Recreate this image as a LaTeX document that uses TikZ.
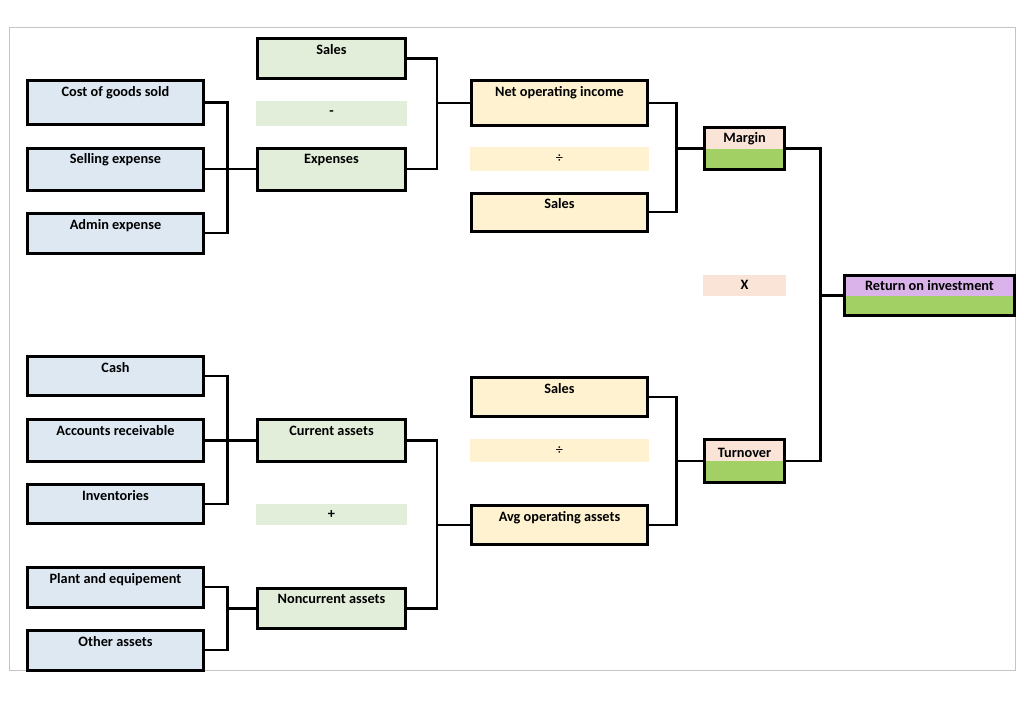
\documentclass[tikz,border=0pt]{standalone}
\usepackage{fontspec}
\setmainfont{Carlito}
\definecolor{bluef}{HTML}{DEE8F3}
\definecolor{greenf}{HTML}{E3EEDA}
\definecolor{yellowf}{HTML}{FEF2D0}
\definecolor{pinkf}{HTML}{F9E4D7}
\definecolor{greend}{HTML}{A2D064}
\definecolor{purplef}{HTML}{D9B3EA}
\definecolor{frame}{HTML}{C4C4C4}
\begin{document}
\begin{tikzpicture}[x=1pt,y=-1pt,
  lbl/.style={font=\bfseries\fontsize{14.3}{16}\selectfont},
  bx/.style={lbl, draw=black, line width=3pt, inner sep=0pt, text height=15.5pt, minimum width=#1},
  tbx/.style={lbl, draw=black, line width=3pt, inner sep=0pt, minimum width=#1, fill=pinkf,
    path picture={\fill[greend] (path picture bounding box.west) rectangle (path picture bounding box.south east);}},
  op/.style={lbl, inner sep=0pt, minimum width=#1},
  conn/.style={line width=2.4pt, line cap=rect}]
\useasboundingbox (0,0) rectangle (1024,702);
\draw[frame, line width=1pt] (9.5,27.5) rectangle (1015.5,670.5);

% column 1 (blue)
\node[bx=176pt, fill=bluef, text depth=28.5pt] (cogs) at (115.5,102.5) {Cost of goods sold};
\node[bx=176pt, fill=bluef, text depth=26.5pt] (sell) at (115.5,169.2) {Selling expense};
\node[bx=176pt, fill=bluef, text depth=24pt] (admin) at (115.5,233.25) {Admin expense};
\node[bx=176pt, fill=bluef, text depth=23.5pt] (cash) at (115.5,376) {Cash};
\node[bx=176pt, fill=bluef, text depth=26pt] (ar) at (115.5,440.5) {Accounts receivable};
\node[bx=176pt, fill=bluef, text depth=23.5pt] (inv) at (115.5,504) {Inventories};
\node[bx=176pt, fill=bluef, text depth=24pt] (plant) at (115.5,587.25) {Plant and equipement};
\node[bx=176pt, fill=bluef, text depth=24pt] (other) at (115.5,650.25) {Other assets};

% column 2 (green)
\node[bx=148pt, fill=greenf, text depth=24.5pt] (sales1) at (331.5,58.5) {Sales};
\node[op=151pt, fill=greenf, minimum height=25pt] (minus) at (331.5,113.2) {-};
\node[bx=148pt, fill=greenf, text depth=26.5pt] (exp) at (331.5,169.2) {Expenses};
\node[bx=148pt, fill=greenf, text depth=25.9pt] (cur) at (331.5,440.5) {Current assets};
\node[op=151pt, fill=greenf, minimum height=20.7pt] (plus) at (331.5,514.65) {+};
\node[bx=148pt, fill=greenf, text depth=24.8pt] (noncur) at (331.5,608.35) {Noncurrent assets};

% column 3 (yellow)
\node[bx=176pt, fill=yellowf, text depth=28.9pt] (noi) at (559.5,103) {Net operating income};
\node[op=179pt, fill=yellowf, minimum height=23.4pt, font=\mdseries\fontsize{14.3}{16}\selectfont] (div1) at (559.5,159) {÷};
\node[bx=176pt, fill=yellowf, text depth=22.5pt] (sales2) at (559.5,212.2) {Sales};
\node[bx=176pt, fill=yellowf, text depth=23.8pt] (sales3) at (559.5,397.15) {Sales};
\node[op=179pt, fill=yellowf, minimum height=23pt, font=\mdseries\fontsize{14.3}{16}\selectfont] (div2) at (559.5,450.8) {÷};
\node[bx=176pt, fill=yellowf, text depth=23.2pt] (avg) at (559.5,525.15) {Avg operating assets};

% column 4
\node[tbx=80pt, text height=14.5pt, text depth=27.5pt] (margin) at (744.5,148.5) {Margin};
\node[op=83pt, fill=pinkf, minimum height=20.5pt] (times) at (744.5,285.25) {X};
\node[tbx=80pt, text height=17.5pt, text depth=25.5pt] (turn) at (744.5,461) {Turnover};

% column 5
\node[tbx=170pt, fill=purplef, text height=14.5pt, text depth=25.5pt] (roi) at (929.5,295.5) {Return on investment};

% spines
\coordinate (j1) at (227.5,0);
\coordinate (j2) at (437,0);
\coordinate (j3) at (676.5,0);
\coordinate (j4) at (820.5,0);

% connectors
\draw[conn] (cogs.east) -| (j1 |- exp.west);
\draw[conn] (admin.east) -| (j1 |- exp.west);
\draw[conn] (sell.east) -- (exp.west);

\draw[conn] (cash.east) -| (j1 |- cur.west);
\draw[conn] (inv.east) -| (j1 |- cur.west);
\draw[conn] (ar.east) -- (cur.west);

\draw[conn] (plant.east) -| (j1 |- noncur.west);
\draw[conn] (other.east) -| (j1 |- noncur.west) -- (noncur.west);

\draw[conn] (sales1.east) -| (j2 |- noi.west);
\draw[conn] (exp.east) -| (j2 |- noi.west) -- (noi.west);

\draw[conn] (cur.east) -| (j2 |- avg.west);
\draw[conn] (noncur.east) -| (j2 |- avg.west) -- (avg.west);

\draw[conn] (noi.east) -| (j3 |- margin.west);
\draw[conn] (sales2.east) -| (j3 |- margin.west) -- (margin.west);

\draw[conn] (sales3.east) -| (j3 |- turn.west);
\draw[conn] (avg.east) -| (j3 |- turn.west) -- (turn.west);

\draw[conn] (margin.east) -| (j4 |- roi.west);
\draw[conn] (turn.east) -| (j4 |- roi.west) -- (roi.west);
\end{tikzpicture}
\end{document}
